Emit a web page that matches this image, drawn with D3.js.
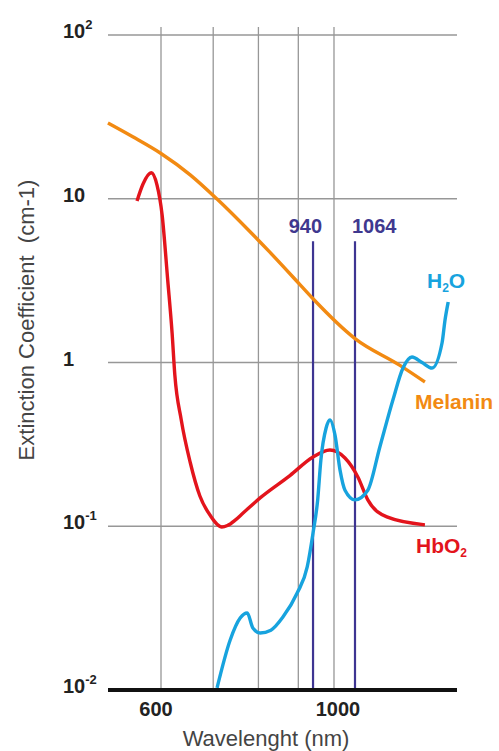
<!DOCTYPE html>
<html>
<head>
<meta charset="utf-8">
<script src="https://cdn.jsdelivr.net/npm/d3@7"></script>
<style>
  body { margin: 0; background: #fff; }
  svg { display: block; }
  text { font-family: "Liberation Sans", Arial, sans-serif; }
</style>
</head>
<body>
<svg id="chart" width="499" height="751"></svg>
<script>
//DATA//////////////////////////////////
var gridNm = [600, 700, 800, 900, 1000];
var xTickNm = [600, 1000];
var yTicks = [100, 10, 1, 0.1, 0.01];
var yTickBase = ["10", "10", "1", "10", "10"];
var yTickExp = ["2", "", "", "-1", "-2"];

var melaninNm = [513, 552, 600, 654, 708, 780, 828, 905, 940, 1064, 1215, 1308];
var melaninK = [29.0, 23.9, 18.9, 14.0, 9.96, 6.31, 4.70, 2.98, 2.45, 1.40, 0.96, 0.76];

var hbo2Nm = [559, 569, 583, 593, 602, 612, 620, 625, 637, 654, 673, 696, 708, 718, 730, 747, 764, 804, 878, 940, 988, 1033, 1073, 1105, 1169, 1308];
var hbo2K = [9.7, 12.3, 14.4, 12.1, 7.96, 3.19, 1.51, 0.84, 0.446, 0.246, 0.153, 0.114, 0.103, 0.099, 0.101, 0.109, 0.12, 0.149, 0.204, 0.265, 0.292, 0.261, 0.2, 0.145, 0.114, 0.102];

var waterNm = [708, 736, 758, 774, 787, 804, 830, 860, 897, 924, 940, 953, 962, 977, 988, 1003, 1018, 1033, 1064, 1105, 1145, 1190, 1226, 1259, 1297, 1336, 1376, 1388, 1401];
var waterK = [0.0103, 0.0202, 0.0275, 0.0295, 0.0239, 0.0223, 0.0232, 0.0279, 0.0391, 0.0564, 0.091, 0.145, 0.254, 0.398, 0.446, 0.36, 0.22, 0.166, 0.145, 0.166, 0.305, 0.59, 0.925, 1.08, 1.0, 0.925, 1.32, 1.82, 2.34];

var markerNm = [940, 1064];
var markerTop = 5.5;

//SCALES/////////////////////////////////
var left = 108, right = 457;
var x = d3.scaleLog().domain([600, 1064]).range([161, 355]);
var y = d3.scaleLog().domain([0.01, 100]).range([690, 35]);

var svg = d3.select("#chart");

function zip(a, b) {
  return a.map(function (d, i) { return [d, b[i]]; });
}
var line = d3
  .line()
  .x(function (d) { return x(d[0]); })
  .y(function (d) { return y(d[1]); })
  .curve(d3.curveMonotoneX);

//GRID///////////////////////////////////
svg.selectAll(".hgrid")
  .data(yTicks.slice(0, 4))
  .enter()
  .append("line")
  .attr("x1", left)
  .attr("x2", right)
  .attr("y1", function (d) { return y(d); })
  .attr("y2", function (d) { return y(d); })
  .attr("stroke", "#979797")
  .attr("stroke-width", 1.3);

svg.selectAll(".vgrid")
  .data(gridNm)
  .enter()
  .append("line")
  .attr("x1", function (d) { return x(d); })
  .attr("x2", function (d) { return x(d); })
  .attr("y1", 27)
  .attr("y2", y(0.01))
  .attr("stroke", "#979797")
  .attr("stroke-width", 1.3);

//MARKER LINES 940 / 1064////////////////
svg.selectAll(".marker")
  .data(markerNm)
  .enter()
  .append("line")
  .attr("x1", function (d) { return x(d); })
  .attr("x2", function (d) { return x(d); })
  .attr("y1", y(markerTop))
  .attr("y2", y(0.01))
  .attr("stroke", "#3e3592")
  .attr("stroke-width", 2.2);

svg.selectAll(".markerLabel")
  .data(markerNm)
  .enter()
  .append("text")
  .attr("x", function (d, i) { return i == 0 ? x(d) + 9 : x(d) - 3; })
  .attr("y", 233)
  .attr("text-anchor", function (d, i) { return i == 0 ? "end" : "start"; })
  .attr("font-size", 20)
  .attr("font-weight", "bold")
  .attr("fill", "#3f388f")
  .text(function (d) { return d; });

//CURVES/////////////////////////////////
svg.append("path")
  .attr("d", line(zip(melaninNm, melaninK)))
  .attr("fill", "none")
  .attr("stroke", "#f28a12")
  .attr("stroke-width", 3.4);

svg.append("path")
  .attr("d", line(zip(hbo2Nm, hbo2K)))
  .attr("fill", "none")
  .attr("stroke", "#e3141c")
  .attr("stroke-width", 3.4);

svg.append("path")
  .attr("d", line(zip(waterNm, waterK)))
  .attr("fill", "none")
  .attr("stroke", "#17a3de")
  .attr("stroke-width", 3.4);

//BASELINE////////////////////////////////
svg.append("line")
  .attr("x1", left)
  .attr("x2", right)
  .attr("y1", y(0.01))
  .attr("y2", y(0.01))
  .attr("stroke", "#111")
  .attr("stroke-width", 4);

//AXIS LABELS/////////////////////////////
var yLab = svg.selectAll(".ylab")
  .data(yTicks)
  .enter()
  .append("text")
  .attr("x", 63)
  .attr("y", function (d) { return y(d) + 3; })
  .attr("font-size", 20)
  .attr("font-weight", "bold")
  .attr("fill", "#222");
yLab.append("tspan").text(function (d, i) { return yTickBase[i]; });
yLab.append("tspan")
  .attr("dy", -9)
  .attr("font-size", 13)
  .text(function (d, i) { return yTickExp[i]; });

svg.selectAll(".xlab")
  .data(xTickNm)
  .enter()
  .append("text")
  .attr("x", function (d) { return x(d); })
  .attr("dx", function (d, i) { return i == 0 ? -5 : 4; })
  .attr("y", 716)
  .attr("text-anchor", "middle")
  .attr("font-size", 20)
  .attr("font-weight", "bold")
  .attr("fill", "#222")
  .text(function (d) { return d; });

svg.append("text")
  .attr("x", 266)
  .attr("y", 746)
  .attr("text-anchor", "middle")
  .attr("font-size", 22)
  .attr("fill", "#444")
  .text("Wavelenght (nm)");

svg.append("text")
  .attr("transform", "translate(34,320) rotate(-90)")
  .attr("text-anchor", "middle")
  .attr("font-size", 22)
  .attr("fill", "#444")
  .style("white-space", "pre")
  .text("Extinction Coefficient  (cm-1)");

//SERIES LABELS///////////////////////////
function subLabel(tx, ty, a, sub, b, col) {
  var t = svg.append("text")
    .attr("x", tx)
    .attr("y", ty)
    .attr("font-size", 21)
    .attr("font-weight", "bold")
    .attr("fill", col);
  t.append("tspan").text(a);
  if (sub) {
    t.append("tspan").attr("font-size", 12).attr("dy", 4).text(sub);
    t.append("tspan").attr("dy", -4).text(b);
  }
}
subLabel(427, 288, "H", "2", "O", "#17a3de");
subLabel(415, 409, "Melanin", null, null, "#f28a12");
subLabel(416, 553, "HbO", "2", "", "#e3141c");
</script>
</body>
</html>
